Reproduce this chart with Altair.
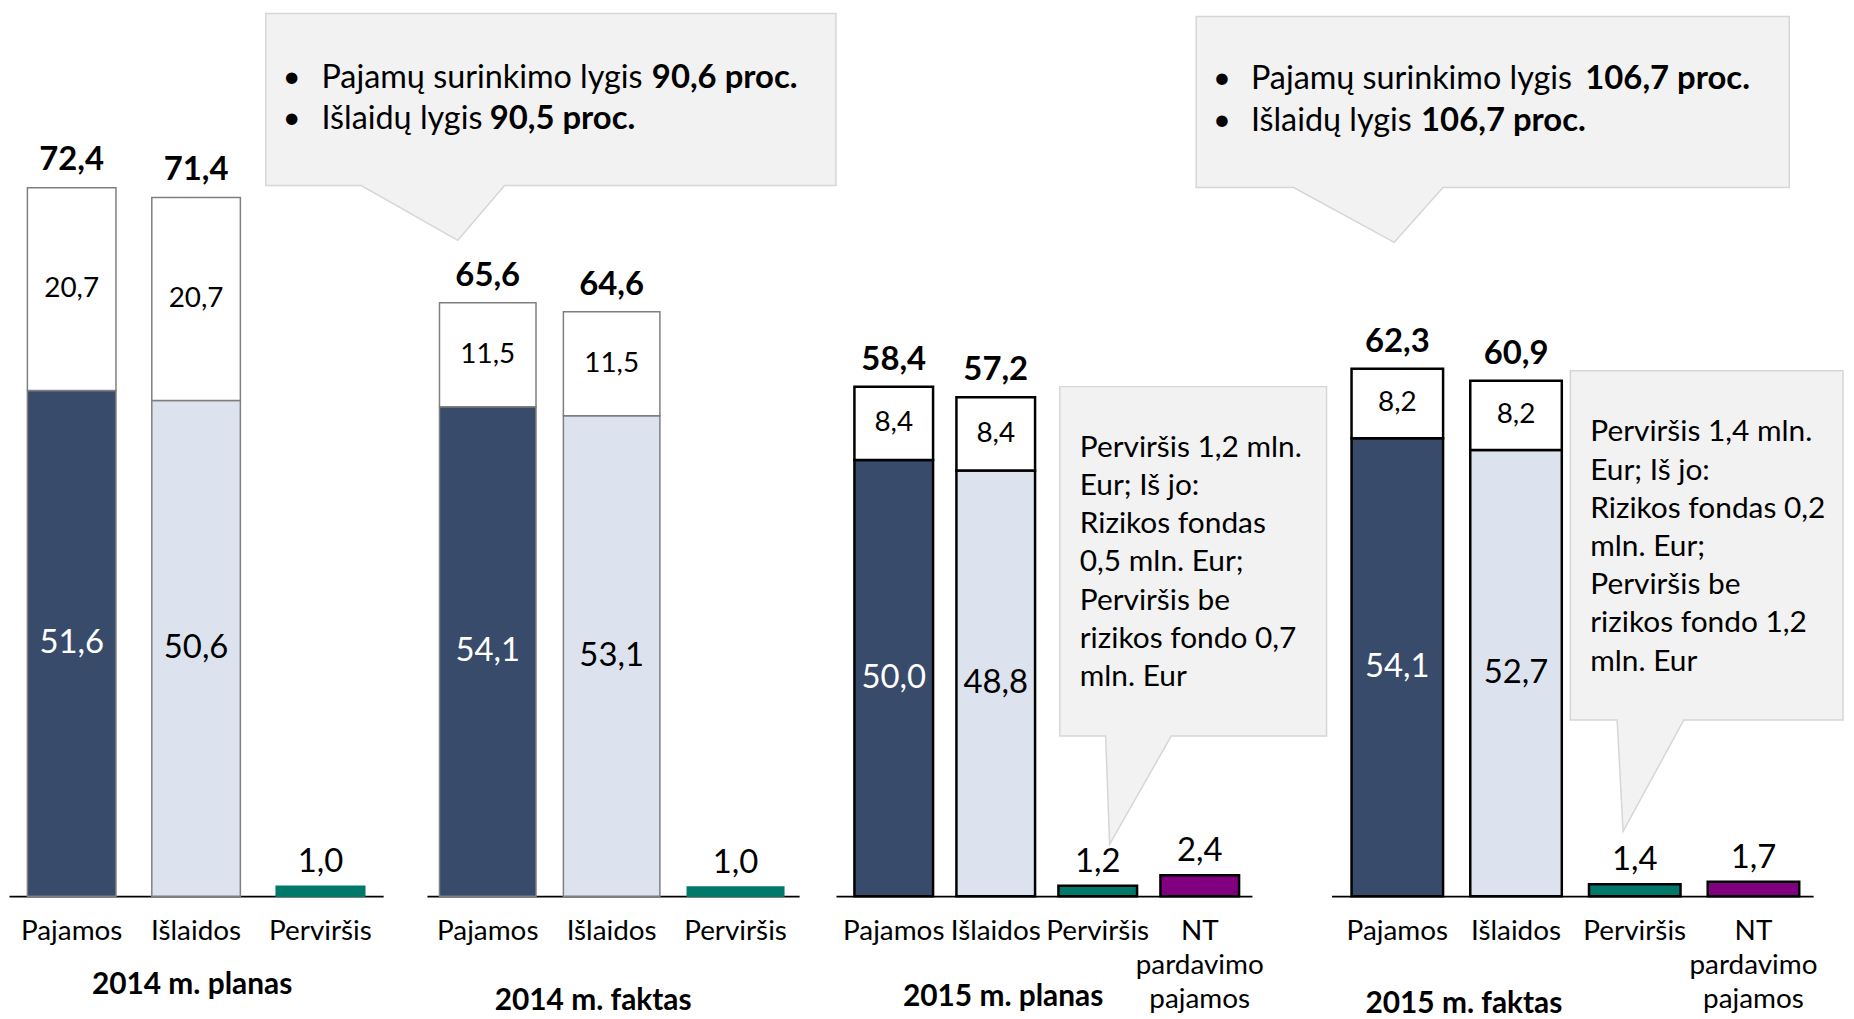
import altair as alt
import pandas as pd

# ------------------------------------------------------------------ data
panel_titles = ["2014 m. planas", "2014 m. faktas", "2015 m. planas", "2015 m. faktas"]
panel_categories = [
    ["Pajamos", "Išlaidos", "Perviršis"],
    ["Pajamos", "Išlaidos", "Perviršis"],
    ["Pajamos", "Išlaidos", "Perviršis", "NT|pardavimo|pajamos"],
    ["Pajamos", "Išlaidos", "Perviršis", "NT|pardavimo|pajamos"],
]
bar_kinds = ["Pajamos", "Išlaidos", "Perviršis", "NT"]
lower_values = [
    [51.6, 50.6, 1.0],
    [54.1, 53.1, 1.0],
    [50.0, 48.8, 1.2, 2.4],
    [54.1, 52.7, 1.4, 1.7],
]
upper_values = [[20.7, 20.7], [11.5, 11.5], [8.4, 8.4], [8.2, 8.2]]
total_values = [[72.4, 71.4], [65.6, 64.6], [58.4, 57.2], [62.3, 60.9]]

bullets_2014 = [("Pajamų surinkimo lygis", "90,6 proc."), ("Išlaidų lygis", "90,5 proc.")]
bullets_2015 = [("Pajamų surinkimo lygis", "106,7  proc."), ("Išlaidų lygis", "106,7 proc.")]
note_2015_plan = ["Perviršis 1,2 mln.", "Eur; Iš jo:", "Rizikos fondas", "0,5 mln. Eur;",
                  "Perviršis be", "rizikos fondo 0,7", "mln. Eur"]
note_2015_fact = ["Perviršis 1,4 mln.", "Eur; Iš jo:", "Rizikos fondas 0,2", "mln. Eur;",
                  "Perviršis be", "rizikos fondo 1,2", "mln. Eur"]

# ---------------------------------------------------------------- layout / style
FONT = "Lato"
KIND_COLORS = {"Pajamos": "#384B6B", "Išlaidos": "#DCE3EE", "Perviršis": "#00796B",
               "NT": "#800080", "Likutis": "#FFFFFF"}
PAGE_MARGIN = 8
PANEL_LEFT = [9, 428, 837, 1334]          # nominal page x of each panel
PANEL_W = [376, 374, 418, 484]
GAP_FIX = [0.5, 1.5, 0.5]
LEFT_PAD = 1
PLOT_H = 888
Y_MAX = [90.2, 97.7, 101.3, 104.4]
PAD_INNER = [0.288, 0.221, 0.229, 0.229]
PAD_OUTER = [0.148, 0.1125, 0.1535, 0.143]
BAND_ALIGN = [0.5, 0.45, 0.59, 0.59]
BAR_STROKE = ["#7F7F7F", "#7F7F7F", "#000000", "#000000"]
BAR_STROKE_W = [1.5, 1.5, 2.5, 2.5]
TITLE_POS = [(193, 985), (595, 1001), (1005, 997), (1467, 1004)]   # page coords
CALLOUT_FILL = "#F2F2F2"
CALLOUT_STROKE = "#D6D6D6"
# panel, left, top, width, height, base_left, base_right, tip_x, tip_y (page coords / box-relative)
CALLOUTS = [
    (0, 267, 9, 573, 173, 96, 240, 193, 228),
    (3, 1198, 12, 596, 172, 98, 248, 199, 227),
    (2, 1062, 384, 268, 351, 46, 112, 50, 460),
    (3, 1574, 368, 274, 351, 47, 114, 53, 463),
]
REG_FS = 32.5
BOLD_FS = 33


def fmt(v):
    return f"{v:.1f}".replace(".", ",")


def rel(panel, x, y):
    return x - PANEL_LEFT[panel], y - PAGE_MARGIN


def text_item(panel, txt, x, y, size, weight="normal", align="left", color="#000000"):
    rx, ry = rel(panel, x, y)
    return alt.Chart(pd.DataFrame({"t": [txt]})).mark_text(
        font=FONT, fontSize=size, fontWeight=weight, align=align, baseline="middle", color=color
    ).encode(x=alt.value(rx), y=alt.value(ry), text="t:N")


def callout_shape(spec):
    panel, left, top, w, h, b1, b2, tx, ty = spec
    path = f"M0,0 L{w},0 L{w},{h} L{b2},{h} L{tx},{ty} L{b1},{h} L0,{h} Z"
    rx, ry = rel(panel, left, top)
    return alt.Chart(pd.DataFrame({"s": [0]})).mark_point(
        shape=path, size=4, filled=True, fill=CALLOUT_FILL, stroke=CALLOUT_STROKE,
        strokeWidth=1.5, opacity=1
    ).encode(x=alt.value(rx), y=alt.value(ry))


# annotation layers per panel
annotations = {0: [], 1: [], 2: [], 3: []}
for spec in CALLOUTS:
    annotations[spec[0]].append(callout_shape(spec))

# callout 1 (2014) text
for k, (reg, bold) in enumerate(bullets_2014):
    y = [73.5, 115.5][k]
    annotations[0].append(text_item(0, "•", 293, y, 31, align="center"))
    annotations[0].append(text_item(0, reg, 323, y, REG_FS))
    annotations[0].append(text_item(0, bold, [655, 492][k], y, BOLD_FS, weight="bold"))
# callout 2 (2015) text
for k, (reg, bold) in enumerate(bullets_2015):
    y = [75, 117.5][k]
    annotations[3].append(text_item(3, "•", 1224, y, 31, align="center"))
    annotations[3].append(text_item(3, reg, 1253, y, REG_FS))
    annotations[3].append(text_item(3, bold, [1589, 1424][k], y, BOLD_FS, weight="bold"))
# side notes
for k, line in enumerate(note_2015_plan):
    annotations[2].append(text_item(2, line, 1082, 445.5 + k * 38.4, 30))
for k, line in enumerate(note_2015_fact):
    annotations[3].append(text_item(3, line, 1594, 430 + k * 38.4, 30))
# panel titles
for i, title in enumerate(panel_titles):
    annotations[i].append(text_item(i, title, TITLE_POS[i][0], TITLE_POS[i][1], 30,
                                     weight="bold", align="center"))


def build_panel(i):
    cats = panel_categories[i]
    rows = []
    for j, cat in enumerate(cats):
        low = lower_values[i][j]
        kind = bar_kinds[j]
        stroke = BAR_STROKE[i] if (i >= 2 or j < 2) else KIND_COLORS[kind]
        rows.append(dict(cat=cat, kind=kind, start=0.0, end=low, label=fmt(low), sc=stroke))
        if j < len(upper_values[i]):
            up = upper_values[i][j]
            rows.append(dict(cat=cat, kind="Likutis", start=low, end=low + up,
                             label=fmt(up), sc=BAR_STROKE[i]))
    seg = pd.DataFrame(rows)
    seg["mid"] = (seg["start"] + seg["end"]) / 2
    tot = pd.DataFrame({"cat": cats[:2], "total": total_values[i],
                        "label": [fmt(v) for v in total_values[i]]})

    xenc = alt.X(
        "cat:N", sort=cats,
        scale=alt.Scale(paddingInner=PAD_INNER[i], paddingOuter=PAD_OUTER[i], align=BAND_ALIGN[i]),
        axis=alt.Axis(title=None, labelAngle=0, labelFont=FONT, labelFontSize=28,
                      labelColor="#000000", labelPadding=22, ticks=False, tickSize=0,
                      domainColor="#000000", domainWidth=1.8, grid=False,
                      labelExpr="split(datum.label, '|')", labelLineHeight=34,
                      labelBaseline="top", labelLimit=400),
    )
    yscale = alt.Scale(domain=[0, Y_MAX[i]], nice=False, zero=False)

    bars = alt.Chart(seg).mark_bar(strokeWidth=BAR_STROKE_W[i]).encode(
        x=xenc,
        y=alt.Y("start:Q", scale=yscale, axis=None),
        y2="end:Q",
        color=alt.Color("kind:N", scale=alt.Scale(domain=list(KIND_COLORS),
                                                  range=list(KIND_COLORS.values())), legend=None),
        stroke=alt.Stroke("sc:N", scale=None),
    )

    def seg_text(df, size, color, ycol="mid", dy=0, baseline="middle", weight="normal"):
        return alt.Chart(df).mark_text(font=FONT, fontSize=size, color=color, dy=dy,
                                       baseline=baseline, fontWeight=weight).encode(
            x=xenc, y=alt.Y(f"{ycol}:Q", scale=yscale, axis=None), text="label:N")

    inner_dark = seg_text(seg[seg.kind == "Pajamos"], 33, "#FFFFFF")
    inner_light = seg_text(seg[seg.kind == "Išlaidos"], 33, "#000000")
    upper = seg_text(seg[seg.kind == "Likutis"], 28, "#000000")
    small = seg_text(seg[seg.kind.isin(["Perviršis", "NT"])], 33, "#000000",
                     ycol="end", dy=-14, baseline="alphabetic")
    totals = seg_text(tot, 33, "#000000", ycol="total", dy=-17, baseline="alphabetic",
                      weight="bold")

    layers = [bars, inner_dark, inner_light, upper, small, totals] + annotations[i]
    return alt.layer(*layers).properties(width=PANEL_W[i], height=PLOT_H)


def spacer(w):
    # invisible, zero-size point in the middle of the gap (keeps it out of the bounds)
    return alt.Chart(pd.DataFrame({"s": [0]})).mark_point(opacity=0, size=0).encode(
        x=alt.value(w / 2), y=alt.value(PLOT_H / 2)).properties(width=w, height=PLOT_H)


items = []
for i in range(4):
    if i > 0:
        items.append(spacer(PANEL_LEFT[i] - PANEL_LEFT[i - 1] - PANEL_W[i - 1] + GAP_FIX[i - 1]))
    items.append(build_panel(i))

chart = alt.hconcat(*items, spacing=0, bounds="flush").properties(
    padding={"left": LEFT_PAD, "top": 0, "right": 0, "bottom": 0}
).configure_view(stroke=None)

chart.save("out.html", embed_options={"renderer": "svg", "actions": False})
